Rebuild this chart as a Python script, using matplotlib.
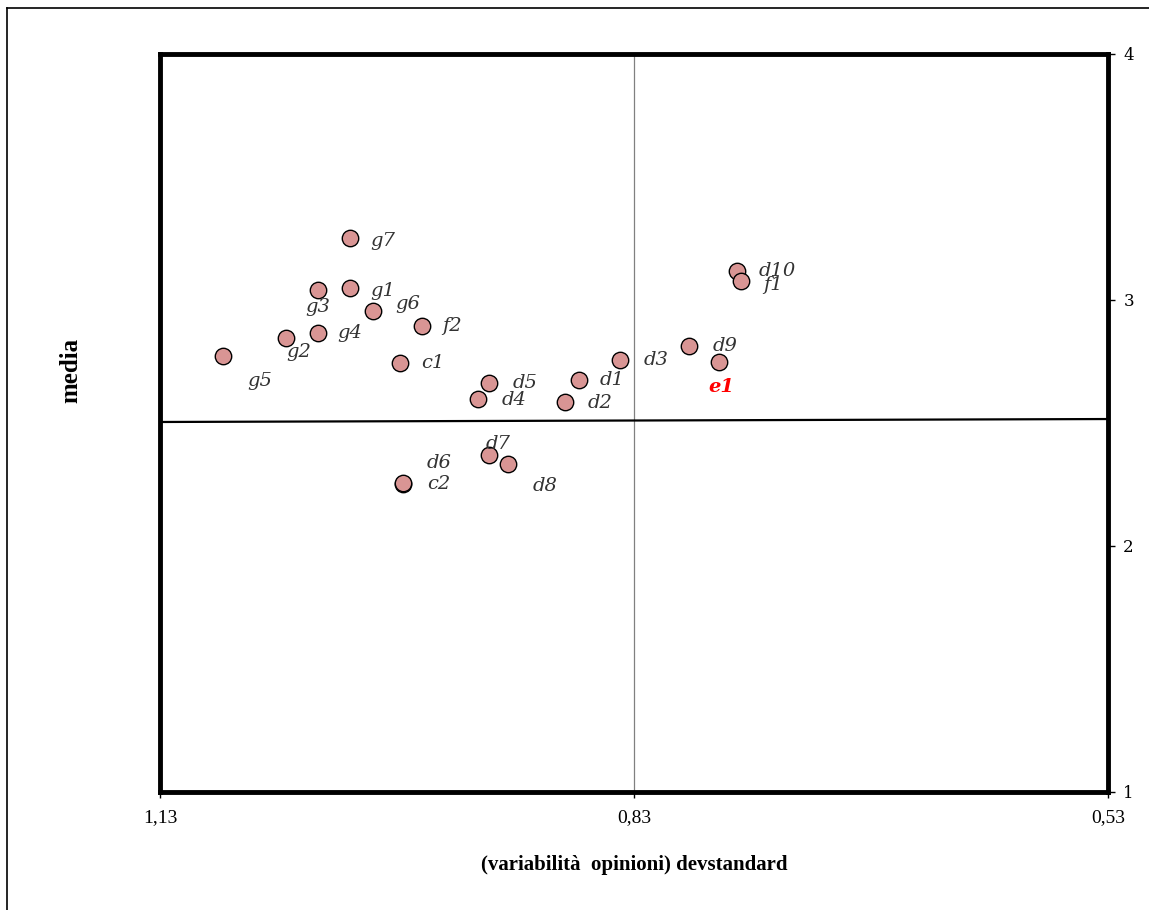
import matplotlib.pyplot as plt
from matplotlib.lines import Line2D

# punti: deviazione standard (x) e media (y)
nomi = ["g7", "g1", "g3", "g6", "f2", "g4", "g2", "g5", "c1",
        "d3", "d1", "d5", "d4", "d2", "d9", "e1", "d10", "f1",
        "d7", "d8", "d6", "c2"]
devstd = [1.010, 1.010, 1.030, 0.995, 0.964, 1.030, 1.050, 1.090, 0.978,
          0.839, 0.865, 0.922, 0.929, 0.874, 0.795, 0.776, 0.765, 0.762,
          0.922, 0.910, 0.976, 0.976]
media = [3.252, 3.049, 3.041, 2.955, 2.894, 2.866, 2.846, 2.772, 2.744,
         2.756, 2.675, 2.663, 2.598, 2.585, 2.813, 2.748, 3.118, 3.077,
         2.370, 2.333, 2.252, 2.256]
# spostamento etichette (in punti)
off_x = [15, 15, -9, 16, 14, 14, 0, 17, 15,
         17, 15, 17, 17, 17, 17, -8, 16, 16,
         -2, 18, 17, 17]
off_y = [-2, -2, -12, 5, 0, 0, -10, -18, 0,
         0, 0, 0, -1, -1, 0, -18, 0, -3,
         8, -16, 15, -1]

x_ticks = [1.13, 0.83, 0.53]
x_ticklabels = ["1,13", "0,83", "0,53"]
y_ticks = [1, 2, 3, 4]
linea_media = [2.504, 2.516]

fig = plt.figure(figsize=(11.49, 9.10), dpi=100)
ax = fig.add_axes([0.1393, 0.1297, 0.8250, 0.8110])

ax.set_xlim(1.13, 0.53)
ax.set_ylim(1, 4)

ax.axvline(0.83, color="#808080", lw=0.9, zorder=1)
ax.plot([1.13, 0.53], linea_media, color="black", lw=1.6, zorder=1)

ax.scatter(devstd, media, s=140, color="#d99594", edgecolors="black",
           linewidths=1.0, zorder=3)

for n, x, y, dx, dy in zip(nomi, devstd, media, off_x, off_y):
    if n == "e1":
        ax.annotate(n, (x, y), xytext=(dx, dy), textcoords="offset points",
                    fontsize=14, style="italic", weight="bold", color="red",
                    family="DejaVu Serif", va="center", ha="left")
    else:
        ax.annotate(n, (x, y), xytext=(dx, dy), textcoords="offset points",
                    fontsize=14, style="italic", color="#333333",
                    family="DejaVu Serif", va="center", ha="left")

for s in ax.spines.values():
    s.set_linewidth(3.5)

ax.set_xticks(x_ticks)
ax.set_xticklabels(x_ticklabels, family="Liberation Serif", fontsize=14)
ax.tick_params(axis="x", direction="out", length=4, width=1, pad=8)
ax.yaxis.tick_right()
ax.set_yticks(y_ticks)
ax.set_yticklabels([str(v) for v in y_ticks], family="DejaVu Serif", fontsize=12)
ax.tick_params(axis="y", direction="out", length=5, width=1, pad=6)

ax.set_xlabel("(variabilità  opinioni) devstandard", family="Liberation Serif",
              weight="bold", fontsize=15, labelpad=21)
fig.text(0.062, 0.593, "media", rotation=90, family="Liberation Serif",
         weight="bold", fontsize=18, ha="center", va="center")

# cornice esterna
fig.add_artist(Line2D([0.006, 0.006], [0.0, 0.991], color="black", lw=1.2,
                      transform=fig.transFigure))
fig.add_artist(Line2D([0.006, 1.0], [0.991, 0.991], color="black", lw=1.2,
                      transform=fig.transFigure))

fig.savefig("out.png", dpi=100)
